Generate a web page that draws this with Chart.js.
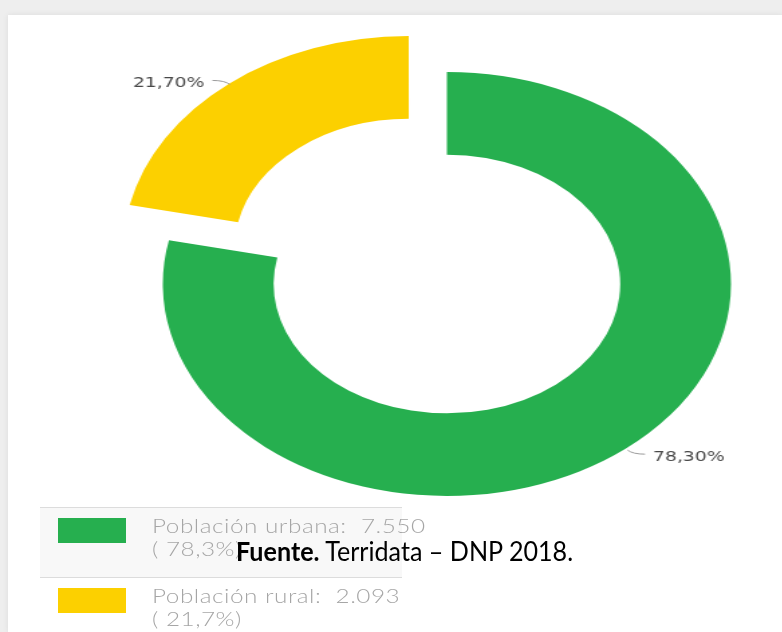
<!DOCTYPE html>
<html>
<head>
<meta charset="utf-8">
<script src="https://cdn.jsdelivr.net/npm/chart.js@4"></script>
<style>
  html, body { margin: 0; padding: 0; }
  body { width: 782px; height: 632px; overflow: hidden; background: #eeeeee; position: relative; }
  #tarjeta { position: absolute; left: 8px; top: 15px; width: 774px; height: 617px; background: #ffffff; box-shadow: 0 0 6px rgba(0,0,0,0.08); }
  #zona { position: absolute; left: 0; top: 0; width: 782px; height: 632px; overflow: hidden; }
  #estirado { position: absolute; left: 0; top: 0; transform: scaleX(1.34); transform-origin: 0 0; }
  #leyenda { position: absolute; left: 40px; top: 507px; width: 362px; font-family: Lato, "Open Sans", sans-serif; font-weight: 300; color: #a6a6a6; }
  .item { position: relative; height: 69px; border-top: 1px solid #dcdcdc; }
  .item.primero { background: #f8f8f8; }
  .caja { position: absolute; left: 18px; top: 10px; width: 68px; height: 25px; }
  .texto { position: absolute; left: 112px; top: 6px; font-size: 19px; line-height: 23px; white-space: nowrap; letter-spacing: 0.4px; transform: scaleX(1.28); transform-origin: 0 0; }
  #fuente { position: absolute; left: 236px; top: 537px; font-family: Lato, sans-serif; font-size: 27px; line-height: 28px; color: #000; white-space: nowrap; transform: scaleX(0.93); transform-origin: 0 0; }
</style>
</head>
<body>
<div id="tarjeta"></div>
<div id="zona">
  <div id="estirado"><canvas id="grafico" width="667" height="568"></canvas></div>
</div>
<div id="leyenda"></div>
<div id="fuente"><b>Fuente.</b> Terridata – DNP 2018.</div>
<script>
const categorias = ["Población urbana", "Población rural"];
const poblacion = [7550, 2093];
const porcentajes = [78.3, 21.7];
const colores = ["#26AF4F", "#FCD000"];

function formatoMiles(n) {
    return n.toString().replace(/\B(?=(\d{3})+(?!\d))/g, ".");
}

// etiquetas de porcentaje con su linea guia
const etiquetasPlugin = {
    id: "etiquetas",
    afterDatasetsDraw(chart) {
        const ctx = chart.ctx;
        const meta = chart.getDatasetMeta(0);
        meta.data.forEach((arc, i) => {
            const p = arc.getProps(["x", "y", "startAngle", "endAngle", "outerRadius"], true);
            const mid = (p.startAngle + p.endAngle) / 2;
            // chart.js v4 desplaza el arco offset/4
            const off = (arc.options.offset || 0) / 4;
            const cx = Math.cos(mid), cy = Math.sin(mid);
            const r = p.outerRadius + off + (off > 0 ? 0 : 2);
            const x0 = p.x + cx * r;
            const y0 = p.y + cy * r;
            const sx = cx >= 0 ? 1 : -1;
            const sy = cy >= 0 ? 1 : -1;
            const x2 = x0 + sx * 13;
            const y2 = y0 + sy * 4;
            ctx.save();
            ctx.strokeStyle = "#9a9a9a";
            ctx.lineWidth = 1;
            ctx.beginPath();
            ctx.moveTo(x0, y0);
            ctx.quadraticCurveTo(x0 + sx * 4, y2, x2, y2);
            ctx.stroke();
            ctx.fillStyle = "#484848";
            ctx.font = "14px 'DejaVu Sans'";
            ctx.textBaseline = "middle";
            ctx.textAlign = sx > 0 ? "left" : "right";
            const txt = porcentajes[i].toFixed(2).replace(".", ",") + "%";
            ctx.fillText(txt, x2 + sx * 6, y2 + 3);
            ctx.restore();
        });
    }
};

new Chart(document.getElementById("grafico"), {
    type: "doughnut",
    data: {
        labels: categorias,
        datasets: [{
            data: porcentajes,
            backgroundColor: colores,
            borderWidth: 0,
            offset: [0, 180]
        }]
    },
    options: {
        responsive: false,
        animation: false,
        radius: 212,
        cutout: "61%",
        plugins: {
            legend: { display: false },
            tooltip: { enabled: false }
        }
    },
    plugins: [etiquetasPlugin]
});

// leyenda en html
const leyenda = document.getElementById("leyenda");
categorias.forEach((cat, i) => {
    const item = document.createElement("div");
    item.className = "item" + (i === 0 ? " primero" : "");
    item.innerHTML = '<div class="caja" style="background:' + colores[i] + '"></div>' +
        '<div class="texto">' + cat + ":&nbsp; " + formatoMiles(poblacion[i]) + "<br>( " +
        porcentajes[i].toFixed(1).replace(".", ",") + "%)</div>";
    leyenda.appendChild(item);
});
</script>
</body>
</html>
